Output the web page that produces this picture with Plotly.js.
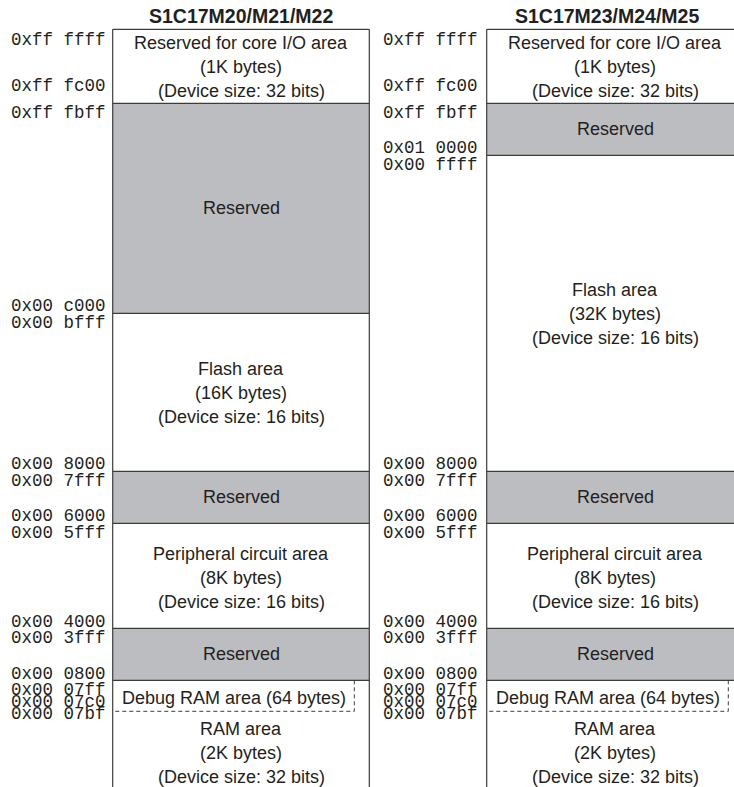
<!DOCTYPE html>
<html>
<head>
<meta charset="utf-8">
<script src="https://cdn.plot.ly/plotly-3.0.1.min.js"></script>
<style>html,body{margin:0;padding:0;background:#fff;}#chart{width:734px;height:787px;}</style>
</head>
<body>
<div id="chart"></div>
<script>
// ---------- data ----------
const columnTitles = ['S1C17M20/M21/M22', 'S1C17M23/M24/M25'];

const leftNames   = ['Reserved for core I/O area', 'Reserved', 'Flash area', 'Reserved', 'Peripheral circuit area', 'Reserved', 'Debug RAM area (64 bytes)', 'RAM area'];
const leftSizes   = ['(1K bytes)', '', '(16K bytes)', '', '(8K bytes)', '', '', '(2K bytes)'];
const leftDevice  = ['(Device size: 32 bits)', '', '(Device size: 16 bits)', '', '(Device size: 16 bits)', '', '', '(Device size: 32 bits)'];
const leftStart   = ['0xff ffff', '0xff fbff', '0x00 bfff', '0x00 7fff', '0x00 5fff', '0x00 3fff', '0x00 07ff', '0x00 07bf'];
const leftEnd     = ['0xff fc00', '0x00 c000', '0x00 8000', '0x00 6000', '0x00 4000', '0x00 0800', '0x00 07c0', '0x00 0000'];

const rightNames  = ['Reserved for core I/O area', 'Reserved', 'Flash area', 'Reserved', 'Peripheral circuit area', 'Reserved', 'Debug RAM area (64 bytes)', 'RAM area'];
const rightSizes  = ['(1K bytes)', '', '(32K bytes)', '', '(8K bytes)', '', '', '(2K bytes)'];
const rightDevice = ['(Device size: 32 bits)', '', '(Device size: 16 bits)', '', '(Device size: 16 bits)', '', '', '(Device size: 32 bits)'];
const rightStart  = ['0xff ffff', '0xff fbff', '0x00 ffff', '0x00 7fff', '0x00 5fff', '0x00 3fff', '0x00 07ff', '0x00 07bf'];
const rightEnd    = ['0xff fc00', '0x01 0000', '0x00 8000', '0x00 6000', '0x00 4000', '0x00 0800', '0x00 07c0', '0x00 0000'];

// ---------- layout (drawing geometry, not data) ----------
const geom = {
  top: 29.3,
  colLeft: [112.7, 486.7],
  colWidth: 256.6,
  dashInset: 15,
  labelGap: [4.3, 6.5],
  titleX: [240.5, 607],
  titleY: 16.3,
  heights: [[74, 210, 158, 52, 105, 52, 31, 85], [74, 52, 316, 52, 105, 52, 31, 85]],
  startNudge: [10.5, 10, 9.5, 10, 10, 10, 10, 2.5],
  endNudge: [-17.5, -7.5, -7.5, -7, -6.5, -6.5, -9.3, -6.5],
  textNudge: [1, 0, 1, 0, 2.5, 0, 2, -0.5],
  lineGap: 24,
  bottomExtend: 820
};
const style = {
  gray: '#bcbdc0', white: '#ffffff', line: '#3c3c3c', text: '#231f20',
  sans: 'Liberation Sans, Arial, sans-serif', mono: 'Liberation Mono, Courier New, monospace',
  textSize: 18, titleSize: 19.5, monoSize: 17.5
};

const columns = [
  {names: leftNames, sizes: leftSizes, device: leftDevice, start: leftStart, end: leftEnd},
  {names: rightNames, sizes: rightSizes, device: rightDevice, start: rightStart, end: rightEnd}
];

const traces = [];
const annotations = [];
const lx = [], ly = [], dx = [], dy = [];

columns.forEach((col, ci) => {
  const left = geom.colLeft[ci];
  const right = left + geom.colWidth;
  const center = left + geom.colWidth / 2;
  const hts = geom.heights[ci];
  const bases = [];
  let y = geom.top;
  hts.forEach(h => { bases.push(y); y += h; });
  const debugIdx = col.names.findIndex(n => n.indexOf('Debug') === 0);

  // region fills
  traces.push({
    type: 'bar', orientation: 'v',
    x: col.names.map(() => center), base: bases, y: hts,
    width: col.names.map(() => geom.colWidth),
    marker: {color: col.names.map(n => n === 'Reserved' ? style.gray : style.white), line: {width: 0}},
    hoverinfo: 'skip', showlegend: false
  });

  // solid outer borders
  lx.push(left, left, null, right, right, null);
  ly.push(geom.top, geom.bottomExtend, null, geom.top, geom.bottomExtend, null);
  // solid separators (top of each region down to top of debug RAM area bottom)
  bases.forEach((b, i) => {
    if (i <= debugIdx) { lx.push(left, right, null); ly.push(b, b, null); }
  });
  // dashed debug box
  const dRight = right - geom.dashInset;
  const dTop = bases[debugIdx], dBot = bases[debugIdx] + hts[debugIdx];
  dx.push(dRight, dRight, left, null);
  dy.push(dTop, dBot, dBot, null);

  // title
  annotations.push({
    x: geom.titleX[ci], y: geom.titleY, xref: 'x', yref: 'y', text: '<b>' + columnTitles[ci] + '</b>',
    showarrow: false, xanchor: 'center', yanchor: 'middle',
    font: {family: style.sans, size: style.titleSize, color: style.text}
  });

  col.names.forEach((name, i) => {
    const regTop = bases[i], regBot = bases[i] + hts[i];
    // region text lines
    const lines = [name, col.sizes[i], col.device[i]].filter(s => s);
    const isDebug = i === debugIdx;
    const cx = isDebug ? (left + dRight) / 2 : center;
    const cy = (regTop + regBot) / 2 + geom.textNudge[i];
    lines.forEach((t, k) => {
      annotations.push({
        x: cx, y: cy + (k - (lines.length - 1) / 2) * geom.lineGap, xref: 'x', yref: 'y',
        text: t, showarrow: false, xanchor: 'center', yanchor: 'middle',
        font: {family: style.sans, size: style.textSize, color: style.text}
      });
    });
    // address labels
    const lxp = left - geom.labelGap[ci];
    annotations.push({
      x: lxp, y: regTop + geom.startNudge[i], xref: 'x', yref: 'y', text: col.start[i],
      showarrow: false, xanchor: 'right', yanchor: 'middle',
      font: {family: style.mono, size: style.monoSize, color: style.text}
    });
    annotations.push({
      x: lxp, y: regBot + geom.endNudge[i], xref: 'x', yref: 'y', text: col.end[i],
      showarrow: false, xanchor: 'right', yanchor: 'middle',
      font: {family: style.mono, size: style.monoSize, color: style.text}
    });
  });
});

traces.push({type: 'scatter', mode: 'lines', x: lx, y: ly, line: {color: style.line, width: 1.2},
  hoverinfo: 'skip', showlegend: false, cliponaxis: true});
traces.push({type: 'scatter', mode: 'lines', x: dx, y: dy, line: {color: style.line, width: 1, dash: '4px,3px'},
  hoverinfo: 'skip', showlegend: false, cliponaxis: true});

const layout = {
  width: 734, height: 787,
  margin: {l: 0, r: 0, t: 0, b: 0, pad: 0},
  paper_bgcolor: '#ffffff', plot_bgcolor: '#ffffff',
  barmode: 'overlay', bargap: 0,
  showlegend: false,
  xaxis: {range: [0, 734], visible: false, fixedrange: true},
  yaxis: {range: [787, 0], visible: false, fixedrange: true},
  annotations: annotations
};

Plotly.newPlot('chart', traces, layout, {staticPlot: true, displayModeBar: false});
</script>
</body>
</html>
